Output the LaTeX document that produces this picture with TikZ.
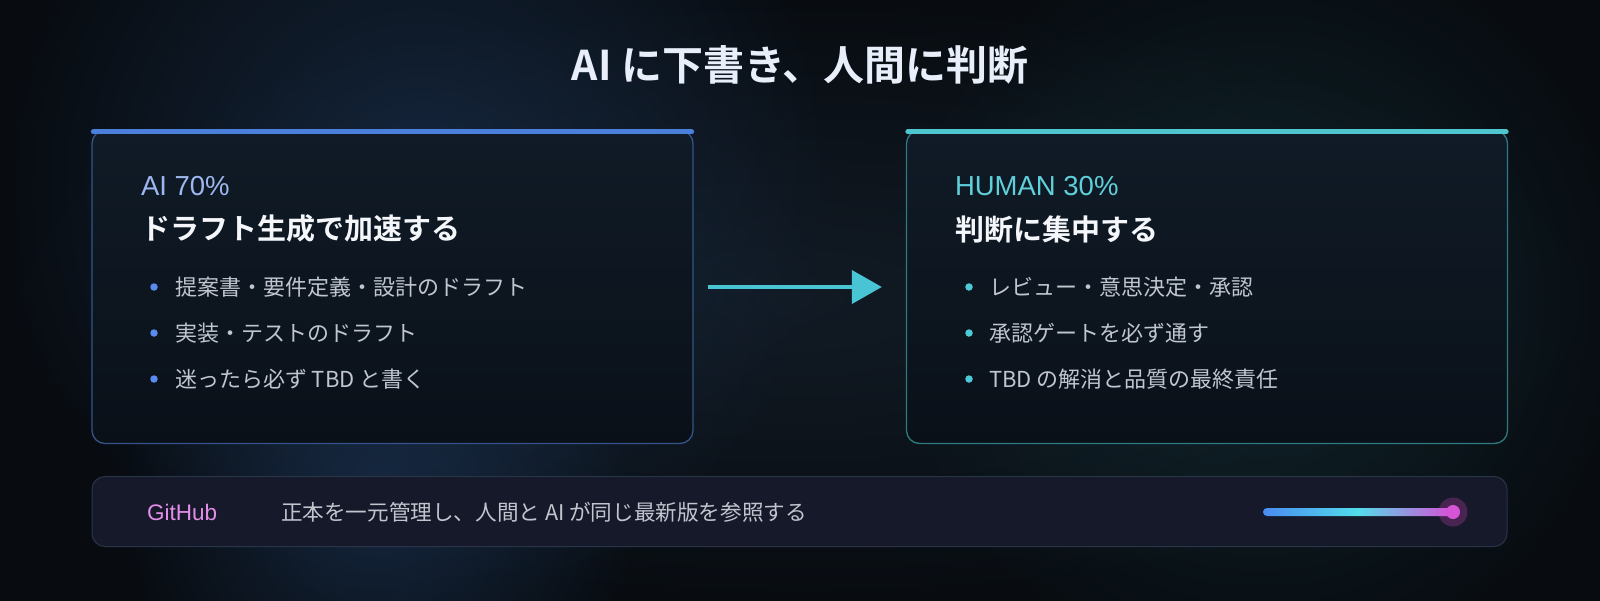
\documentclass[tikz,border=0pt]{standalone}
\usepackage{fontspec}
\setmainfont{Noto Sans CJK JP}[BoldFont={* Bold}]
\newfontfamily\latinfont{Liberation Sans}
\usetikzlibrary{arrows.meta,fadings}
\definecolor{bgin}{HTML}{111A24}
\definecolor{bgout}{HTML}{080C11}
\definecolor{glowblue}{HTML}{1C3556}
\definecolor{glowteal}{HTML}{14343A}
\definecolor{cardtop}{HTML}{101B27}
\definecolor{cardbot}{HTML}{0A1018}
\definecolor{aiborder}{HTML}{34548A}
\definecolor{huborder}{HTML}{2F7A80}
\definecolor{aiaccent}{HTML}{4A7FDC}
\definecolor{huaccent}{HTML}{4EC5CF}
\definecolor{ailbl}{HTML}{9DB8F0}
\definecolor{hulbl}{HTML}{5FD0DA}
\definecolor{headc}{HTML}{F4F6FA}
\definecolor{titlec}{HTML}{E8EEFA}
\definecolor{bodyc}{HTML}{C0C5CE}
\definecolor{aidot}{HTML}{5A8CF0}
\definecolor{hudot}{HTML}{4ECAD6}
\definecolor{barfill}{HTML}{15192A}
\definecolor{barborder}{HTML}{2A3448}
\definecolor{ghc}{HTML}{E38EE8}
\definecolor{arrowc}{HTML}{48C4D4}
\definecolor{slA}{HTML}{4A8CF0}
\definecolor{slB}{HTML}{52DCEB}
\definecolor{slC}{HTML}{D94FD6}
\definecolor{knobc}{HTML}{D655D6}
\definecolor{haloc}{HTML}{4A2450}
\tikzfading[name=glowfade, inner color=transparent!40, outer color=transparent!100]
\tikzset{
  card/.style={draw, line width=1.3pt, rounded corners=13pt, minimum width=601pt,
    minimum height=313pt, inner sep=0pt, top color=cardtop, bottom color=cardbot},
  accentbar/.style={line width=5pt, line cap=round},
  txt/.style={anchor=west, inner sep=0pt, outer sep=0pt},
  titletxt/.style={inner sep=0pt, text=titlec, font=\fontsize{41}{48}\selectfont\bfseries},
  lbltxt/.style={txt, font=\latinfont\fontsize{27.5}{32}\selectfont},
  headtxt/.style={txt, text=headc, font=\fontsize{29}{34}\selectfont\bfseries},
  bodytxt/.style={txt, text=bodyc, font=\fontsize{22}{26}\selectfont},
  dot/.style={circle, inner sep=0pt, minimum size=7.5pt},
  bar/.style={draw=barborder, fill=barfill, line width=1pt, rounded corners=13pt,
    minimum width=1415pt, minimum height=70pt, inner sep=0pt},
  arr/.style={draw=arrowc, line width=4pt, -{Triangle[length=30pt,width=33pt]},
    shorten <=14pt, shorten >=24pt}
}
\begin{document}
\begin{tikzpicture}[x=1pt,y=-1pt]
\useasboundingbox (0,0) rectangle (1600,600);
% background
\shade[inner color=bgin, outer color=bgout] (0,0) rectangle (1600,600);
\fill[glowblue, path fading=glowfade] (420,190) circle (420);
\fill[glowblue, path fading=glowfade] (380,500) circle (260);
\fill[glowteal, path fading=glowfade] (1260,300) circle (380);

% cards
\node[card, draw=aiborder] (ai) at (392.5,287) {};
\node[card, draw=huborder] (hu) at (1207,287) {};
\draw[accentbar, aiaccent] ([xshift=2pt,yshift=-2pt]ai.north west) -- ([xshift=-2pt,yshift=-2pt]ai.north east);
\draw[accentbar, huaccent] ([xshift=2pt,yshift=-2pt]hu.north west) -- ([xshift=-2pt,yshift=-2pt]hu.north east);

% title
\node[titletxt] (title) at (800,65) {AI に下書き、人間に判断};

% left card text
\node[lbltxt, text=ailbl] (ailabel) at (141,186) {AI 70\%};
\node[headtxt] (aihead) at (141,229) {ドラフト生成で加速する};
\node[dot, fill=aidot] (aid1) at (154,287) {};
\node[dot, fill=aidot] (aid2) at (154,333) {};
\node[dot, fill=aidot] (aid3) at (154,379) {};
\node[bodytxt] (ait1) at (175,287) {提案書・要件定義・設計のドラフト};
\node[bodytxt] (ait2) at (175,333) {実装・テストのドラフト};
\node[bodytxt] (ait3) at (175,379) {迷ったら必ず TBD と書く};

% right card text
\node[lbltxt, text=hulbl] (hulabel) at (955,186) {HUMAN 30\%};
\node[headtxt] (huhead) at (955,229) {判断に集中する};
\node[dot, fill=hudot] (hud1) at (969,287) {};
\node[dot, fill=hudot] (hud2) at (969,333) {};
\node[dot, fill=hudot] (hud3) at (969,379) {};
\node[bodytxt] (hut1) at (989,287) {レビュー・意思決定・承認};
\node[bodytxt] (hut2) at (989,333) {承認ゲートを必ず通す};
\node[bodytxt] (hut3) at (989,379) {TBD の解消と品質の最終責任};

% arrow
\draw[arr] (ai) -- (hu);

% bottom bar
\node[bar] (gh) at (799.5,511.5) {};
\node[txt, text=ghc, font=\latinfont\fontsize{22.5}{26}\selectfont] (ghlabel) at (147,512) {GitHub};
\node[bodytxt, font=\fontsize{21.6}{26}\selectfont] (ghtext) at (281,512) {正本を一元管理し、人間と AI が同じ最新版を参照する};

% slider
\node[circle, fill=haloc, minimum size=29pt, inner sep=0pt] (halo) at (1453,512) {};
\shade[left color=slA, right color=slC, middle color=slB, rounded corners=4pt] (1263,508) rectangle (1453,516);
\node[circle, fill=knobc, minimum size=14pt, inner sep=0pt] (knob) at (1453,512) {};
\end{tikzpicture}
\end{document}
